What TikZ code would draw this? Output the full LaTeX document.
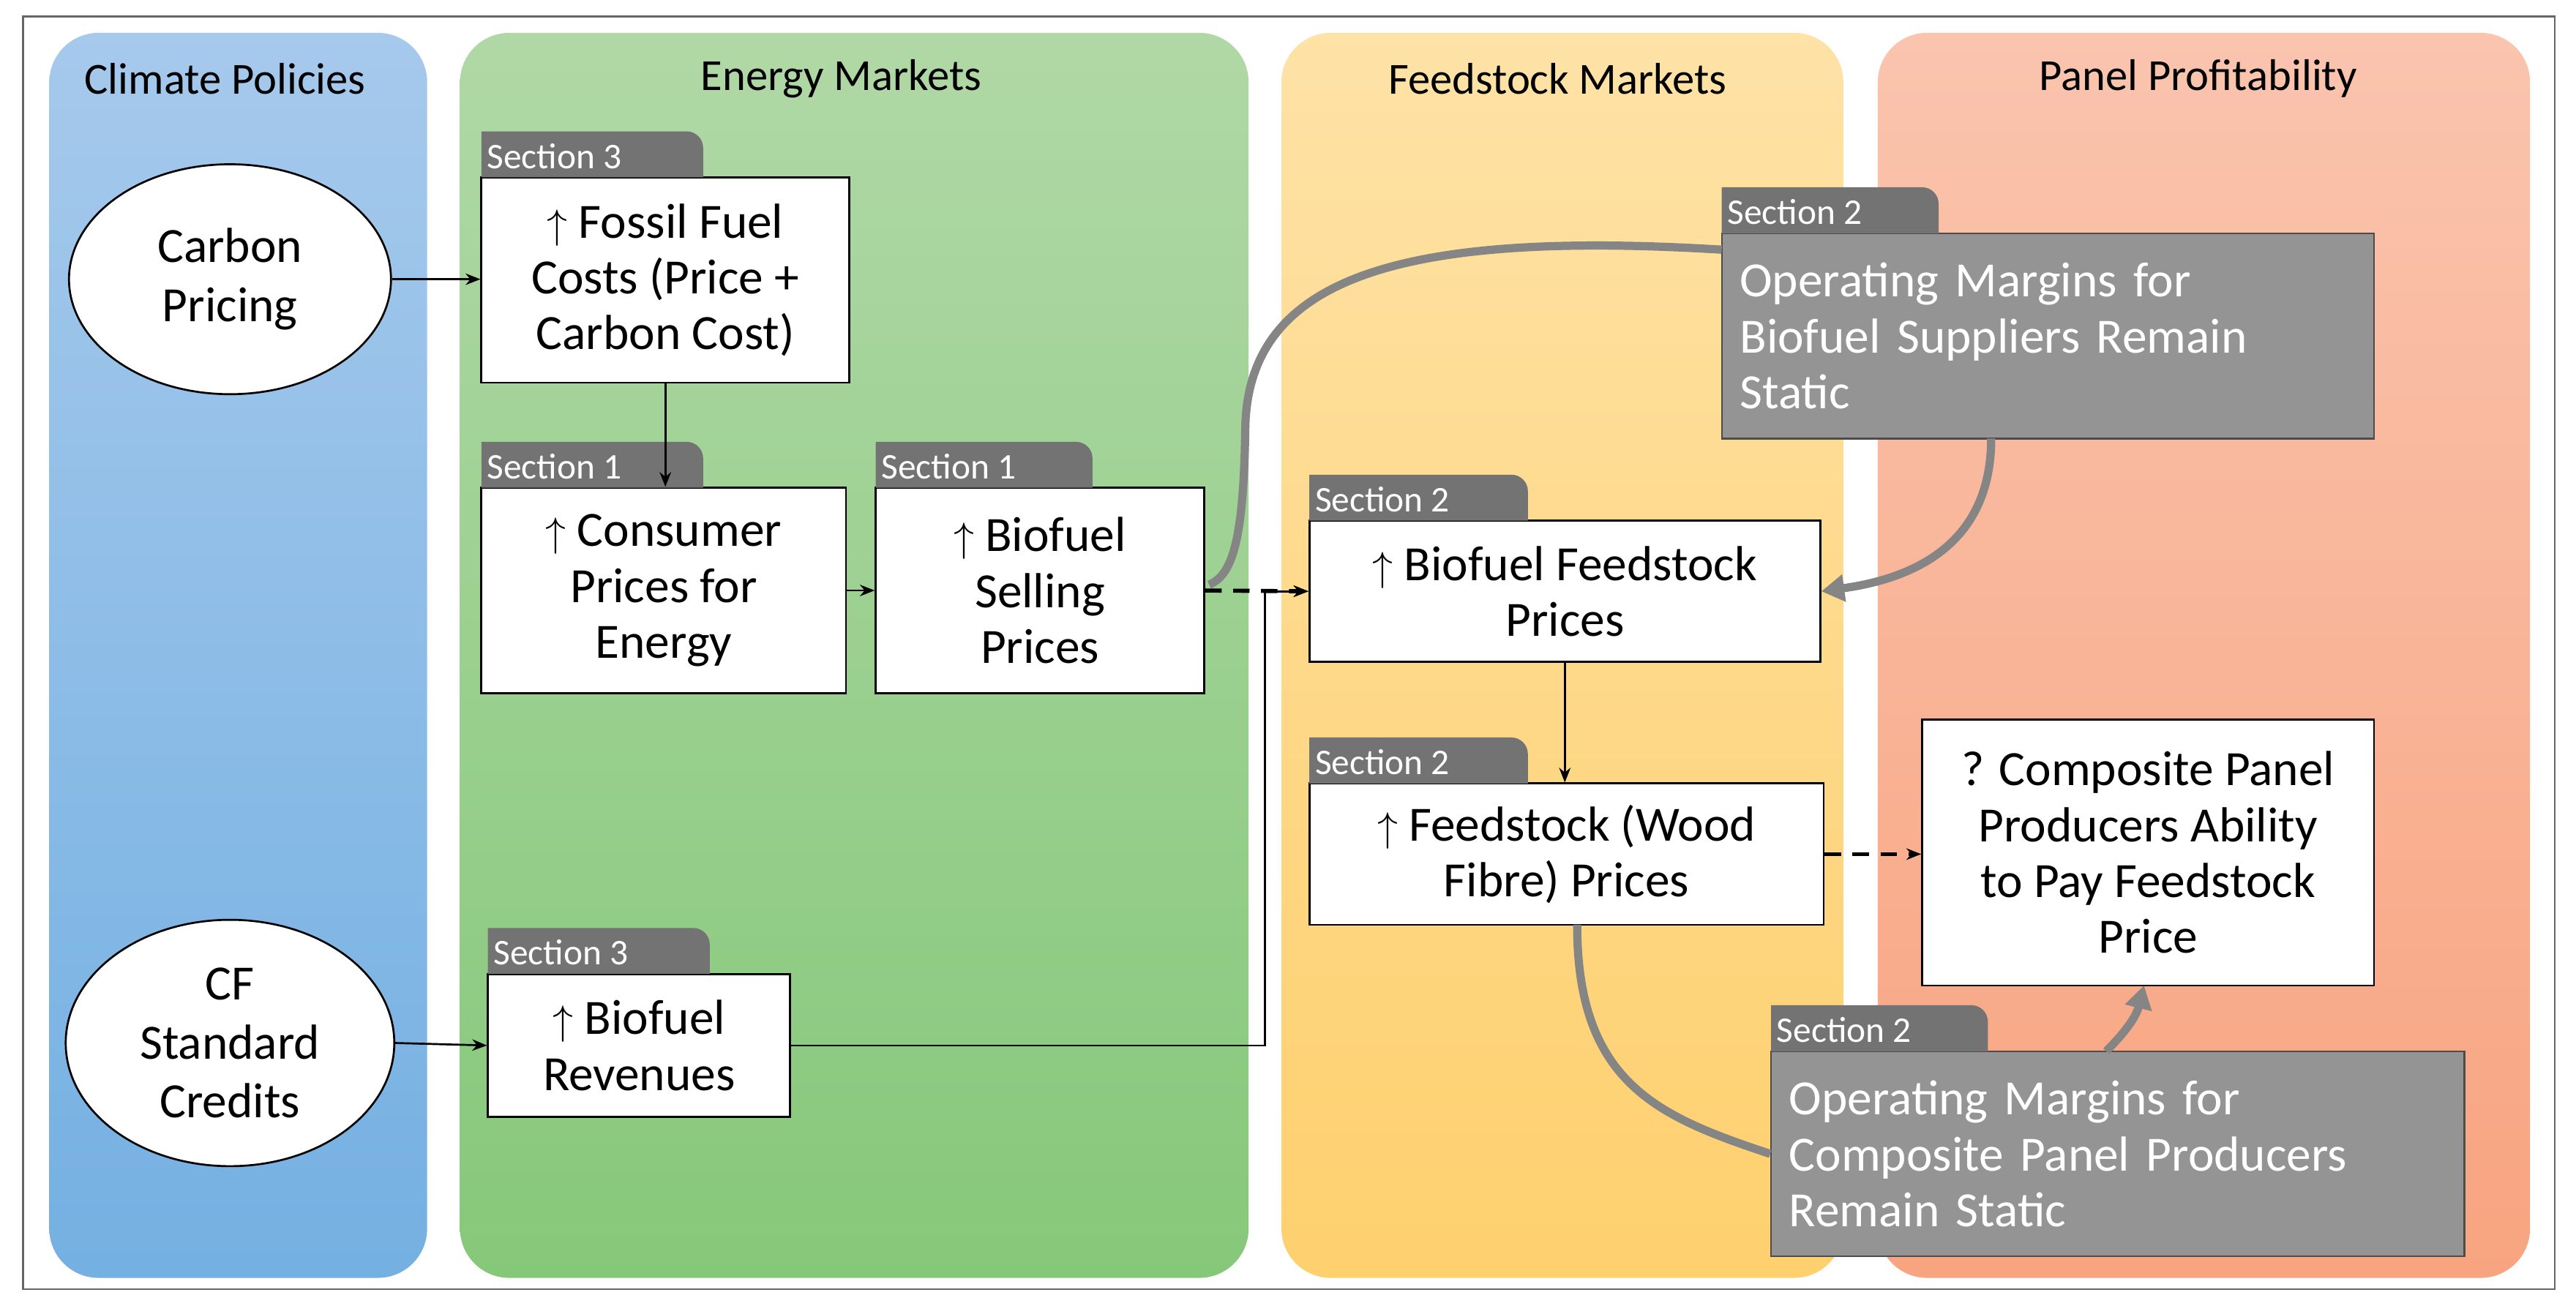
\documentclass[tikz,border=0pt]{standalone}
\usepackage{fontspec}
\setmainfont{Carlito}
\usetikzlibrary{arrows.meta,calc,shapes.geometric}
\definecolor{bt}{RGB}{166,201,236}\definecolor{bb}{RGB}{116,176,226}
\definecolor{gt}{RGB}{176,216,166}\definecolor{gb}{RGB}{134,200,122}
\definecolor{yt}{RGB}{254,226,166}\definecolor{yb}{RGB}{254,208,110}
\definecolor{ot}{RGB}{250,196,174}\definecolor{ob}{RGB}{248,164,128}
\begin{document}
\begin{tikzpicture}[x=1pt,y=-1pt,
 col/.style={rounded corners=30pt},
 box/.style={draw=black,line width=1.2pt,fill=white,align=center,font=\fontsize{30}{34}\selectfont},
 gbox/.style={draw=gray!60!black,line width=1pt,fill=black!42,text=white,align=left,font=\fontsize{30}{34}\selectfont},
 tab/.style={fill=black!55,text=white},
 ar/.style={-{Stealth[length=9pt,width=7pt]},line width=1.2pt},
 garr/.style={line width=5pt,draw=black!48},
 ttl/.style={font=\fontsize{27}{29}\selectfont}]
\useasboundingbox (0,0) rectangle (1568,795);
\fill[white] (0,0) rectangle (1568,795);
\draw[black!60,line width=1pt] (14,10) rectangle (1555,785);
\shade[col,top color=bt,bottom color=bb] (30,20) rectangle (260,778);
\shade[col,top color=gt,bottom color=gb] (280,20) rectangle (760,778);
\shade[col,top color=yt,bottom color=yb] (780,20) rectangle (1122,778);
\shade[col,top color=ot,bottom color=ob] (1143,20) rectangle (1540,778);
\node[ttl] (t1) at (137,48) {Climate Policies};
\node[ttl] (t2) at (512,48) {Energy Markets};
\node[ttl] (t3) at (948,48) {Feedstock Markets};
\node[ttl] (t4) at (1338,48) {Panel Profitability};
\node[draw,line width=1.2pt,fill=white,ellipse,minimum width=196pt,minimum height=140pt,align=center,font=\fontsize{30}{36}\selectfont] (cp) at (140,170) {Carbon\\Pricing};
\node[draw,line width=1.2pt,fill=white,ellipse,minimum width=200pt,minimum height=150pt,align=center,font=\fontsize{30}{36}\selectfont] (cf) at (140,635) {CF\\Standard\\Credits};
\newcommand{\tabbox}[6]{%
 \fill[tab] (#1,#2-28) -- (#1+#5-10,#2-28) arc (270:360:10) -- (#1+#5,#2) -- (#1,#2) -- cycle;
 \node[anchor=west,text=white,font=\fontsize{22}{23}\selectfont] (#6) at (#1,#2-13) {#3};}
\node[box,minimum width=224pt,minimum height=125pt] (ff) at (405,170.5) {$\uparrow$ Fossil Fuel\\Costs (Price +\\Carbon Cost)};
\tabbox{293}{108}{Section 3}{}{135}{s1}
\node[box,minimum width=222pt,minimum height=125pt] (cons) at (404,359.5) {$\uparrow$ Consumer\\Prices for\\Energy};
\tabbox{293}{297}{Section 1}{}{135}{s2}
\node[box,minimum width=200pt,minimum height=125pt] (sell) at (633,359.5) {$\uparrow$ Biofuel\\Selling\\Prices};
\tabbox{533}{297}{Section 1}{}{132}{s3}
\node[box,minimum width=184pt,minimum height=87pt] (rev) at (389,636.5) {$\uparrow$ Biofuel\\Revenues};
\tabbox{297}{593}{Section 3}{}{135}{s4}
\node[box,minimum width=311pt,minimum height=86pt] (bfp) at (952.5,360) {$\uparrow$ Biofuel Feedstock\\Prices};
\tabbox{797}{317}{Section 2}{}{133}{s5}
\node[box,minimum width=313pt,minimum height=86pt] (wood) at (953.5,520) {$\uparrow$ Feedstock (Wood\\Fibre) Prices};
\tabbox{797}{477}{Section 2}{}{133}{s6}
\node[box,minimum width=275pt,minimum height=162pt] (comp) at (1307.5,519) {? Composite Panel\\Producers Ability\\to Pay Feedstock\\Price};
\node[gbox,minimum width=397pt,minimum height=125pt,text width=375pt] (g1) at (1246.5,204.5) {Operating Margins for\\Biofuel Suppliers Remain\\Static};
\tabbox{1048}{142}{Section 2}{}{132}{s7}
\node[gbox,minimum width=422pt,minimum height=125pt,text width=400pt] (g2) at (1289,702.5) {Operating Margins for\\Composite Panel Producers\\Remain Static};
\tabbox{1078}{640}{Section 2}{}{132}{s8}
\draw[ar] (cp.east) -- (ff.west |- cp.east);
\draw[ar] (ff.south) -- (ff.south |- cons.north);
\draw[ar] (cons.east) -- (sell.west);
\draw[ar,line width=2.5pt,dash pattern=on 10pt off 7pt] (sell.east) -- (bfp.west);
\draw[ar] (cf.east) -- (rev.west);
\draw[ar] (rev.east) -| (770,360) -- (bfp.west);
\draw[ar] (bfp.south) -- (bfp.south |- wood.north);
\draw[ar,line width=2.5pt,dash pattern=on 10pt off 7pt] (wood.east) -- (comp.west |- wood.east);
\coordinate (g1l) at (1048,152);
\coordinate (sellr) at (736,356);
\draw[garr] (g1l) .. controls (850,140) and (760,170) .. (758,260) .. controls (757,330) and (750,350) .. (sellr);
\draw[garr,-{Triangle[length=14pt,width=16pt]}] (1212,267) .. controls (1212,320) and (1180,350) .. (bfp.east);
\draw[garr] (960,563) .. controls (960,660) and (1010,680) .. (g2.west);
\draw[garr,-{Triangle[length=14pt,width=16pt]}] (1282,640) .. controls (1292,630) and (1300,620) .. (1305,600);
\end{tikzpicture}
\end{document}
